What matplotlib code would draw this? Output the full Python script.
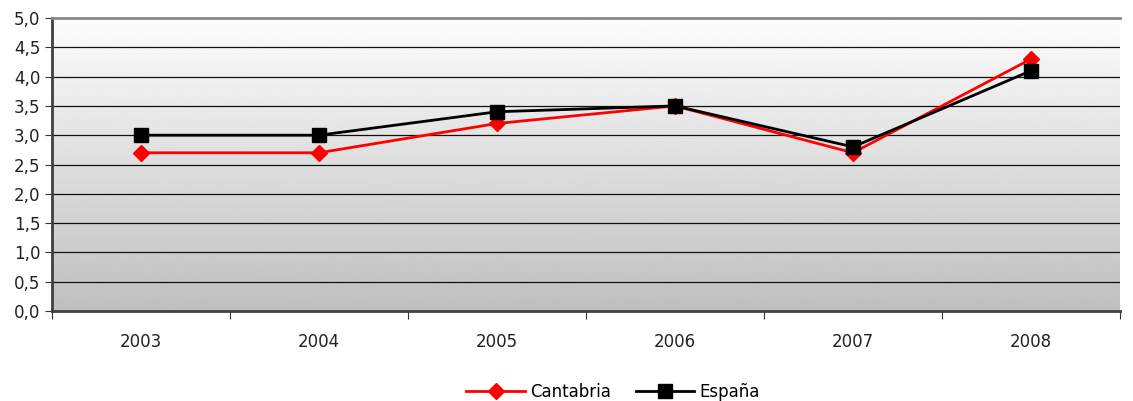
import numpy as np
import matplotlib
matplotlib.use("Agg")
import matplotlib.pyplot as plt
from matplotlib.ticker import FuncFormatter, MultipleLocator

years = ["2003", "2004", "2005", "2006", "2007", "2008"]
cantabria = [2.7, 2.7, 3.2, 3.5, 2.7, 4.3]
espana = [3.0, 3.0, 3.4, 3.5, 2.8, 4.1]

plt.rcParams['font.family'] = ['DejaVu Sans']

fig = plt.figure(figsize=(11.33, 4.01), dpi=100)
ax = fig.add_axes([52 / 1133, 1 - 311 / 401, 1068 / 1133, 293 / 401])

x = np.arange(len(years))

# gradient background, grey at bottom to white at top
grad = np.linspace(0.75, 0.99, 256).reshape(-1, 1)
ax.imshow(grad, cmap='gray', vmin=0, vmax=1, aspect='auto',
          extent=(-0.5, len(years) - 0.5, 0, 5), zorder=0, origin='lower')
ax.set_xlim(-0.5, len(years) - 0.5)
ax.set_ylim(0, 5)

ax.yaxis.set_major_locator(MultipleLocator(0.5))
ax.yaxis.set_major_formatter(FuncFormatter(lambda v, p: f"{v:.1f}".replace('.', ',')))
for v in np.arange(0.5, 5.0, 0.5):
    ax.axhline(v, color='#111111', lw=0.9, zorder=1)

ax.plot(x, cantabria, color='#ff0000', lw=2, marker='D', ms=8,
        label='Cantabria', zorder=3)
ax.plot(x, espana, color='black', lw=2, marker='s', ms=10,
        label='España', zorder=4)

ax.set_xticks(np.arange(-0.5, len(years), 1))
ax.set_xticklabels([])
ax.set_xticks(x, minor=True)
ax.set_xticklabels(years, minor=True)
ax.tick_params(axis='x', which='major', length=6, direction='out', color='#333333')
ax.tick_params(axis='x', which='minor', length=0, pad=16, labelsize=12, labelcolor='#222222')
ax.tick_params(axis='y', length=5, direction='out', labelsize=12, labelcolor='#222222', color='#333333')

ax.spines['left'].set_color('#404040')
ax.spines['left'].set_linewidth(2)
ax.spines['bottom'].set_color('#404040')
ax.spines['bottom'].set_linewidth(2)
ax.spines['top'].set_color('#888888')
ax.spines['top'].set_linewidth(2)
ax.spines['right'].set_visible(False)

fig.legend(loc='lower center', bbox_to_anchor=(0.541, -0.038), ncol=2, frameon=False,
           fontsize=12, handlelength=3.5, columnspacing=1.5, handletextpad=0.3)

fig.savefig('out.png', dpi=100)
